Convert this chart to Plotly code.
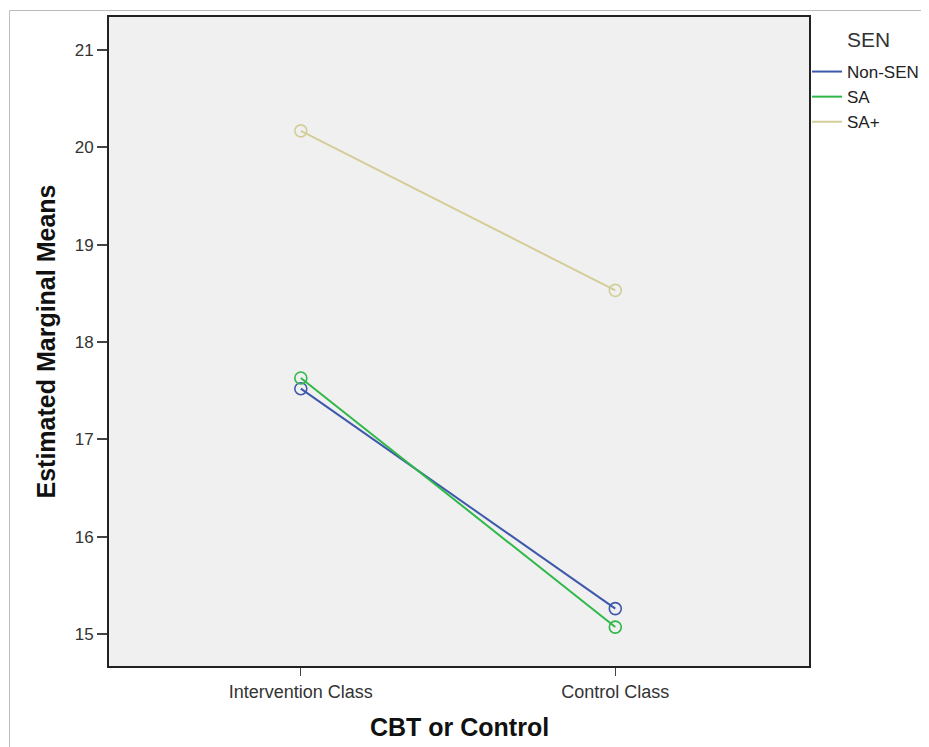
import plotly.graph_objects as go

categories = ["Intervention Class", "Control Class"]
groups = ["Non-SEN", "SA", "SA+"]
non_sen = [17.52, 15.26]
sa = [17.63, 15.07]
sa_plus = [20.17, 18.53]
series_values = [non_sen, sa, sa_plus]
colors = ["#3E58AC", "#2EB848", "#D3CE97"]
y_ticks = [15, 16, 17, 18, 19, 20, 21]

# page offset (browser body margin)
OX, OY = 8, 8
W, H = 929 - OX, 747 - OY
# plot area edges in page pixels
PL, PR, PT, PB = 109, 809, 17, 666
L, R, T, B = PL - OX, PR - OX, PT - OY, PB - OY

fig = go.Figure()
for name, vals, col in zip(groups, series_values, colors):
    fig.add_trace(go.Scatter(
        x=categories, y=vals, mode="lines+markers", name=name,
        line=dict(color=col, width=2),
        marker=dict(symbol="circle-open", size=12, color=col, line=dict(width=1.6, color=col)),
        showlegend=False, hoverinfo="skip"))
    fig.add_trace(go.Scatter(
        x=[None], y=[None], mode="lines", name=name,
        line=dict(color=col, width=2), showlegend=True))

def px2x(p):
    return (p - PL) / (PR - PL)

def px2y(p):
    return (PB - p) / (PB - PT)

font = "Liberation Sans, Arial, sans-serif"
fig.update_layout(
    width=W, height=H,
    margin=dict(l=L, r=W - R, t=T, b=H - B, autoexpand=False),
    paper_bgcolor="white",
    plot_bgcolor="#F0F0F0",
    font=dict(family=font, size=16, color="#333333"),
    showlegend=True,
    legend=dict(x=px2x(807), y=px2y(54), xanchor="left", yanchor="top",
                bgcolor="rgba(0,0,0,0)", font=dict(size=17, color="#222222"),
                itemwidth=30, tracegroupgap=0),
    xaxis=dict(type="category", range=[-0.61, 1.616], showgrid=False, zeroline=False,
               showline=True, mirror=True, linecolor="#222222", linewidth=2,
               ticks="outside", ticklen=8, tickcolor="#444444", tickwidth=1,
               tickfont=dict(size=18, color="#333333")),
    yaxis=dict(range=[14.67, 21.34], tickvals=y_ticks, showgrid=False, zeroline=False,
               showline=True, mirror=True, linecolor="#222222", linewidth=2,
               ticks="outside", ticklen=10, tickcolor="#444444", tickwidth=2,
               tickfont=dict(size=17, color="#333333")),
    annotations=[
        dict(text="<b>Estimated Marginal Means</b>", xref="paper", yref="paper",
             x=px2x(45), y=0.5, textangle=-90, showarrow=False,
             font=dict(size=25, color="#111111"), xanchor="center", yanchor="middle"),
        dict(text="<b>CBT or Control</b>", xref="paper", yref="paper",
             x=0.5, y=px2y(727), showarrow=False,
             font=dict(size=25, color="#111111"), xanchor="center", yanchor="middle"),
        dict(text="SEN", xref="paper", yref="paper",
             x=px2x(845), y=px2y(39), showarrow=False,
             font=dict(size=21, color="#333333"), xanchor="left", yanchor="middle"),
    ],
    shapes=[
        dict(type="rect", xref="paper", yref="paper",
             x0=px2x(9.5), y0=px2y(800), x1=px2x(1000), y1=px2y(10.5),
             line=dict(color="#BBBBBB", width=1), fillcolor="rgba(0,0,0,0)", layer="below"),
    ],
)

fig.write_html("out.html")
